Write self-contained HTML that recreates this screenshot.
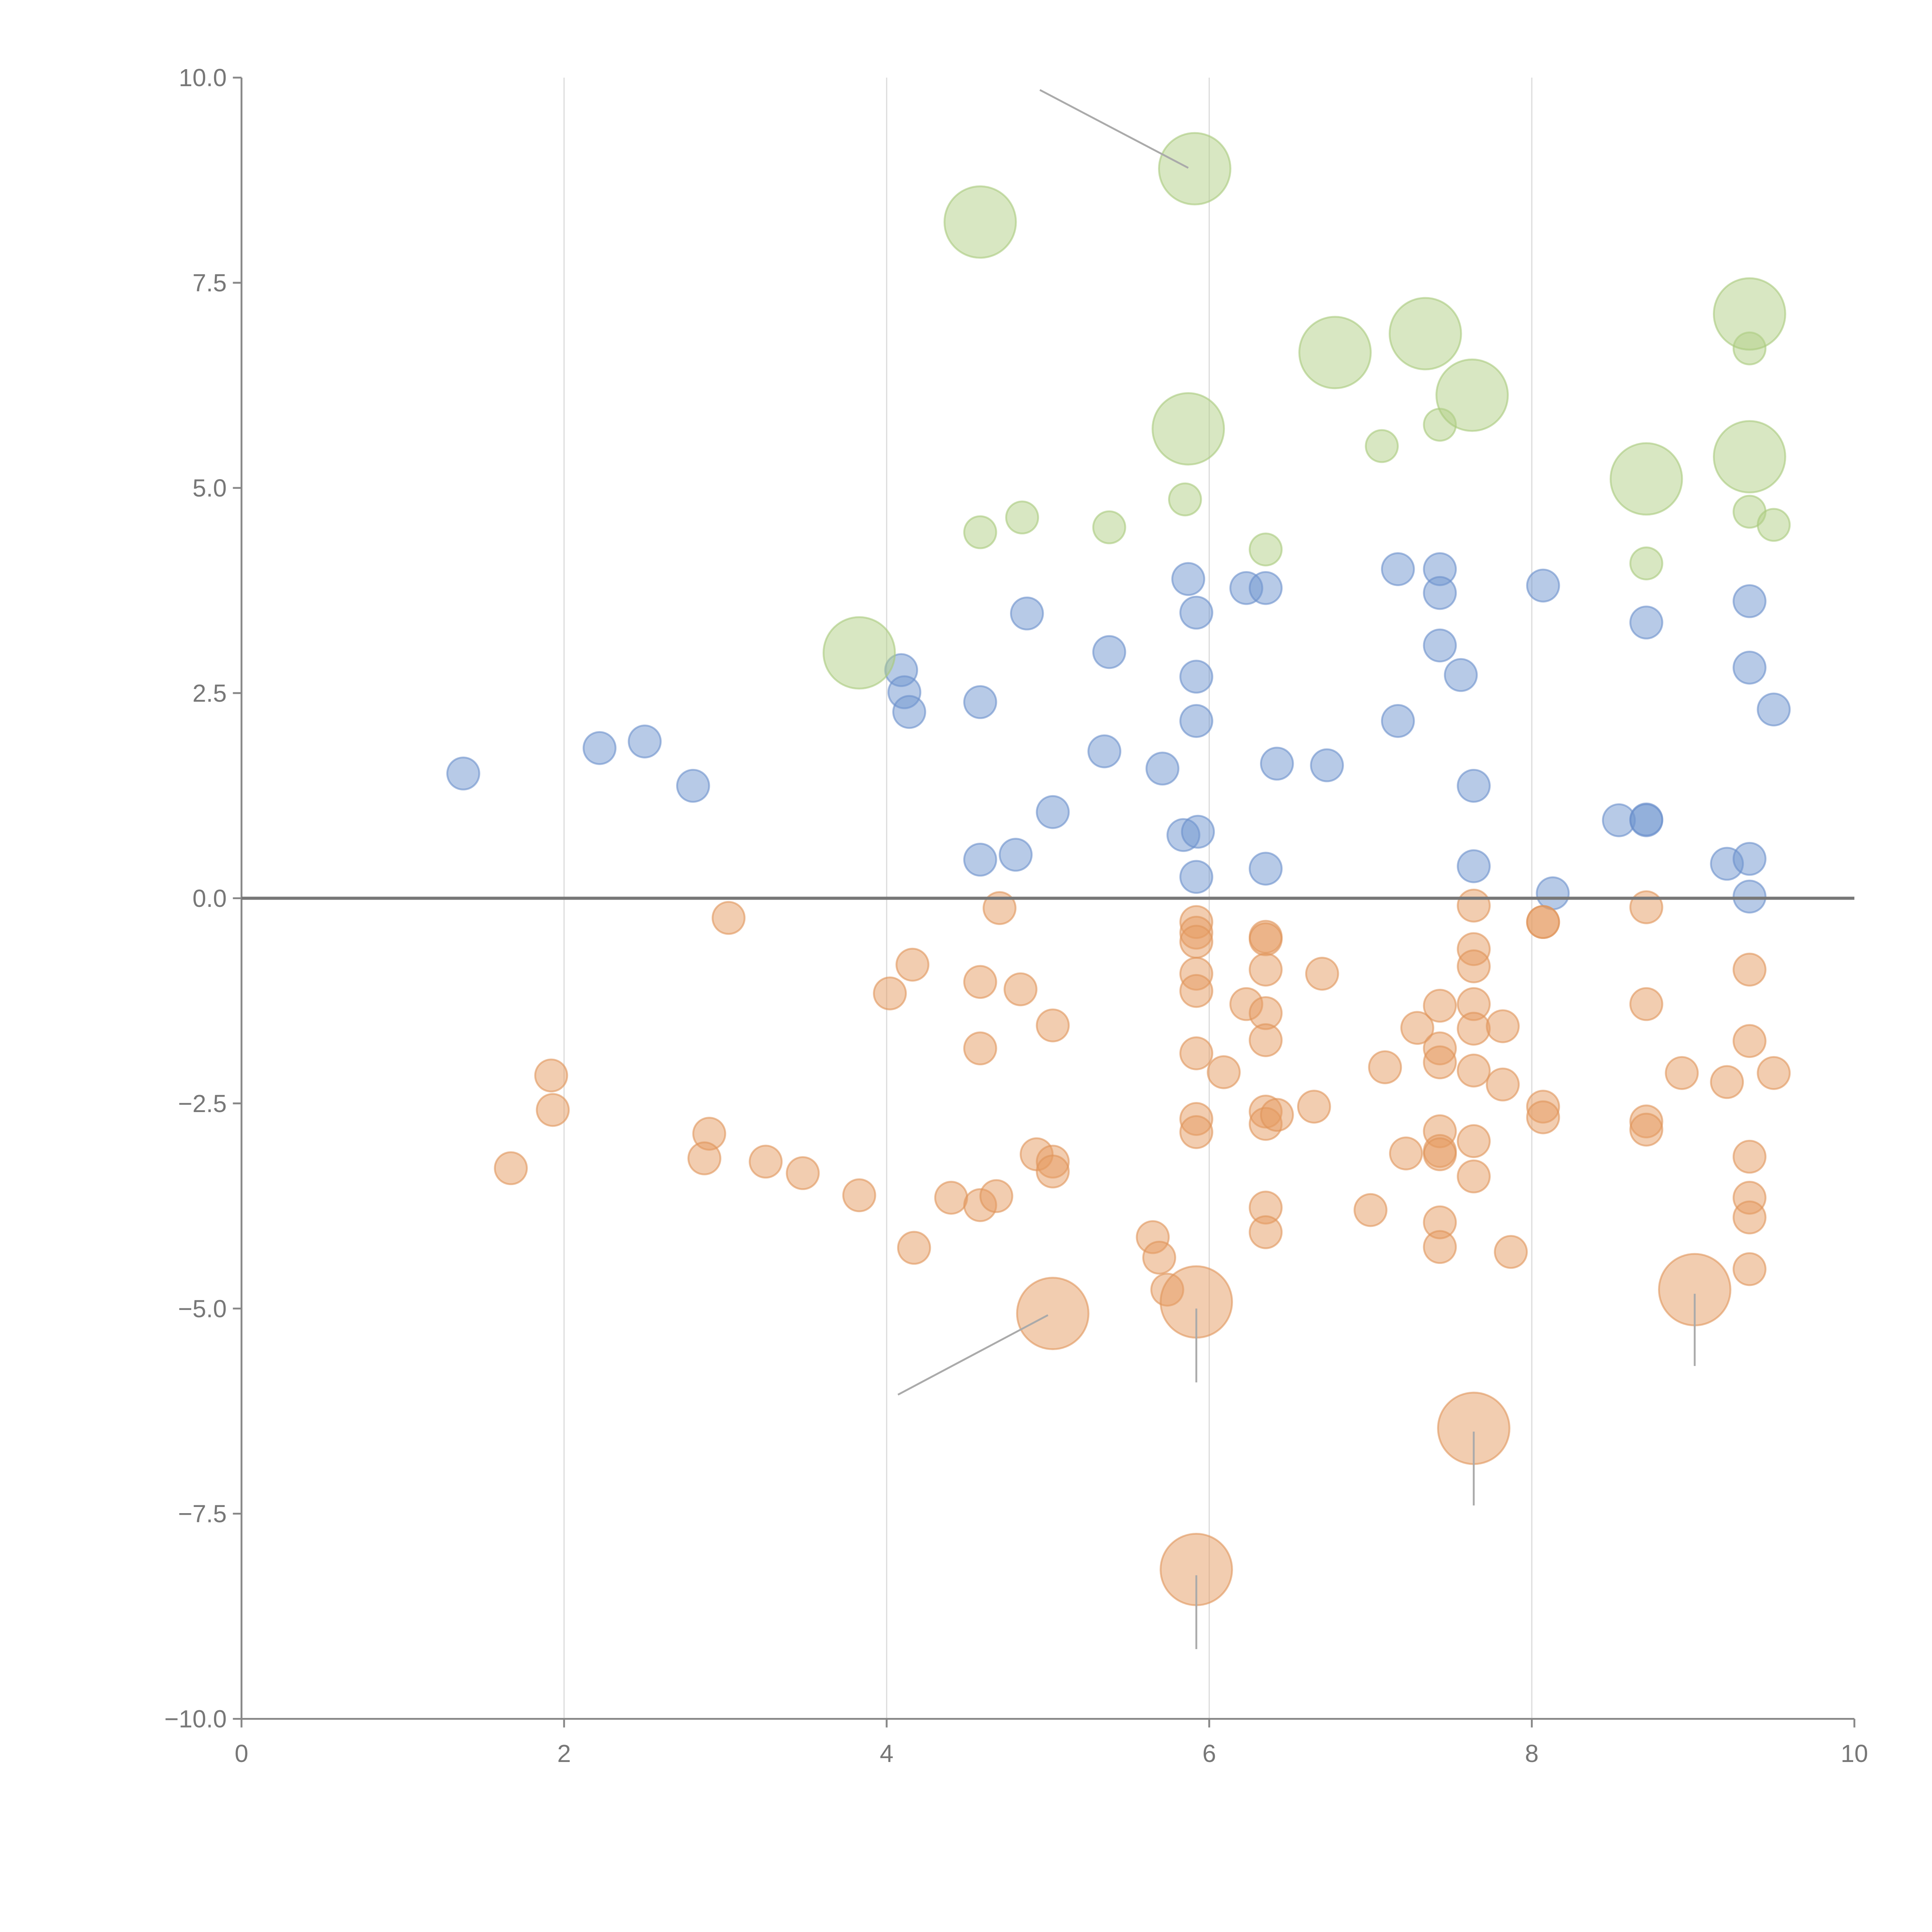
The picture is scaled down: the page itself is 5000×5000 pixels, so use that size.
<!DOCTYPE html>
<html><head><meta charset="utf-8"><style>
html,body{margin:0;padding:0;background:#fff;}
svg{display:block;}
text{font-family:"Liberation Sans",Arial,sans-serif;fill:#777;font-size:20px;}
</style></head><body>
<svg id="chart" width="5000" height="5000" viewBox="0 0 1568 1568" xmlns="http://www.w3.org/2000/svg">
<g id="grid"></g>
<g id="marks"></g>
<g id="axes"></g>
</svg>
<script>
const xTicks=[0,2,4,6,8,10];
const yTicks=[10,7.5,5,2.5,0,-2.5,-5,-7.5,-10];
const yTickLabels=["10.0","7.5","5.0","2.5","0.0","\u22122.5","\u22125.0","\u22127.5","\u221210.0"];
const blueX=[1.375,2.22,2.50,2.80,4.09,4.11,4.14,4.58,4.87,5.38,5.35,5.71,5.03,5.84,5.93,5.92,4.58,4.80,5.87,5.92,5.92,5.92,6.23,6.35,6.42,6.35,6.73,7.17,7.17,7.43,7.43,7.43,7.56,7.64,7.64,8.07,8.13,8.54,8.71,8.71,8.71,9.21,9.35,9.35,9.35,9.35,9.50];
const blueY=[1.52,1.83,1.91,1.37,2.78,2.51,2.27,2.39,3.47,3.00,1.79,1.58,1.05,0.77,0.81,0.26,0.47,0.53,3.89,3.48,2.70,2.16,3.78,3.78,1.64,0.36,1.62,4.01,2.16,4.01,3.72,3.08,2.72,1.37,0.39,3.81,0.06,0.95,0.96,0.95,3.36,0.42,0.48,0.02,3.62,2.81,2.30];
const greenX=[4.58,4.84,5.38,5.85,6.35,7.07,7.43,8.71,9.35,9.35,9.50];
const greenY=[4.46,4.64,4.52,4.86,4.25,5.51,5.77,4.08,6.70,4.71,4.55];
const greenBigX=[4.58,5.91,6.78,7.34,7.63,5.87,8.71,9.35,9.35,3.83];
const greenBigY=[8.24,8.89,6.65,6.88,6.13,5.72,5.11,7.12,5.38,2.99];
const orangeX=[3.02,1.92,1.93,1.67,2.90,2.87,3.25,3.48,3.83,4.02,4.16,4.70,4.58,4.83,5.03,4.58,4.40,4.58,4.68,4.17,4.93,5.03,5.03,5.65,5.69,5.74,5.92,5.92,5.92,5.92,5.92,5.92,5.92,5.92,6.09,6.23,6.35,6.35,6.35,6.35,6.35,6.35,6.35,6.42,6.65,6.70,6.35,6.35,7.00,7.09,7.22,7.29,7.43,7.43,7.43,7.43,7.43,7.43,7.43,7.43,7.64,7.64,7.64,7.64,7.64,7.64,7.64,7.64,7.82,7.82,7.87,8.07,8.07,8.07,8.07,8.71,8.71,8.71,8.71,8.93,9.21,9.35,9.35,9.35,9.35,9.35,9.35,9.50];
const orangeY=[-0.24,-2.16,-2.58,-3.29,-2.87,-3.17,-3.21,-3.35,-3.62,-1.16,-0.81,-0.12,-1.02,-1.11,-1.55,-1.83,-3.65,-3.74,-3.63,-4.26,-3.12,-3.21,-3.33,-4.13,-4.38,-4.77,-0.29,-0.42,-0.53,-0.92,-1.13,-1.89,-2.69,-2.85,-2.12,-1.29,-0.47,-0.50,-0.87,-1.40,-1.73,-2.60,-2.75,-2.64,-2.54,-0.92,-3.77,-4.07,-3.80,-2.06,-3.11,-1.58,-1.31,-1.83,-2.00,-2.84,-3.08,-3.12,-3.95,-4.25,-0.09,-0.62,-0.83,-1.29,-1.59,-2.10,-2.96,-3.39,-1.56,-2.27,-4.31,-0.29,-0.29,-2.54,-2.67,-0.11,-1.29,-2.72,-2.82,-2.13,-2.24,-0.87,-1.74,-3.15,-3.65,-3.89,-4.52,-2.13];
const orangeBigX=[5.03,5.92,7.64,5.92,9.01];
const orangeBigY=[-5.06,-4.92,-6.46,-8.18,-4.77];
const NS="http://www.w3.org/2000/svg";
const X0=196,X1=1505,Y0=1395,Y1=63;
function sx(v){return X0+(v-0)/(10-0)*(X1-X0);}
function sy(v){return Y0-(v+10)/20*(Y0-Y1);}
function mk(tag,attrs,parent){const e=document.createElementNS(NS,tag);for(const k in attrs)e.setAttribute(k,attrs[k]);parent.appendChild(e);return e;}
const grid=document.getElementById('grid'),marks=document.getElementById('marks'),axes=document.getElementById('axes');
xTicks.forEach(t=>{if(t>0&&t<10){const l=mk('line',{x1:sx(t),x2:sx(t),y1:Y1,y2:Y0,stroke:'#ddd','stroke-width':1},grid);

}});
function drawSeries(xs,ys,r,fill,stroke,name){
 xs.forEach((x,i)=>{const c=mk('circle',{cx:sx(x),cy:sy(ys[i]),r:r,fill:fill,'fill-opacity':0.5,stroke:stroke,'stroke-opacity':0.6,'stroke-width':1.5},marks);
 
 });
}
drawSeries(blueX,blueY,13,'#7095cf','#6a8fcb','bubble-blue');
drawSeries(greenX,greenY,13,'#b2cf86','#a9c97c','bubble-green');
drawSeries(greenBigX,greenBigY,29,'#b2cf86','#a9c97c','bubble-green-large');
drawSeries(orangeX,orangeY,13,'#e69c62','#e0955a','bubble-orange');
drawSeries(orangeBigX,orangeBigY,29,'#e69c62','#e0955a','bubble-orange-large');
const leaders=[[[4.95,9.85],[5.87,8.9]],[[4.07,-6.05],[5.0,-5.08]],[[5.92,-5.0],[5.92,-5.9]],[[7.64,-6.5],[7.64,-7.4]],[[5.92,-8.25],[5.92,-9.15]],[[9.01,-4.82],[9.01,-5.7]]];
leaders.forEach(p=>{const l=mk('line',{x1:sx(p[0][0]),y1:sy(p[0][1]),x2:sx(p[1][0]),y2:sy(p[1][1]),stroke:'#aaa','stroke-width':1.5},marks);

});
const ya=mk('line',{x1:X0,x2:X0,y1:Y1,y2:Y0,stroke:'#888','stroke-width':1.5},axes);


const xa=mk('line',{x1:X0,x2:X1,y1:Y0,y2:Y0,stroke:'#888','stroke-width':1.5},axes);


const zl=mk('line',{x1:X0,x2:X1,y1:sy(0),y2:sy(0),stroke:'#777','stroke-width':2.5},axes);


yTicks.forEach((t,i)=>{const tk=mk('line',{x1:X0-7,x2:X0,y1:sy(t),y2:sy(t),stroke:'#888','stroke-width':1.5},axes);


const tx=mk('text',{x:X0-12,y:sy(t)+7,'text-anchor':'end'},axes);tx.textContent=yTickLabels[i];

});
xTicks.forEach(t=>{const tk=mk('line',{x1:sx(t),x2:sx(t),y1:Y0,y2:Y0+7,stroke:'#888','stroke-width':1.5},axes);


const tx=mk('text',{x:sx(t),y:Y0+35,'text-anchor':'middle'},axes);tx.textContent=String(t);

});
</script>
</body></html>
